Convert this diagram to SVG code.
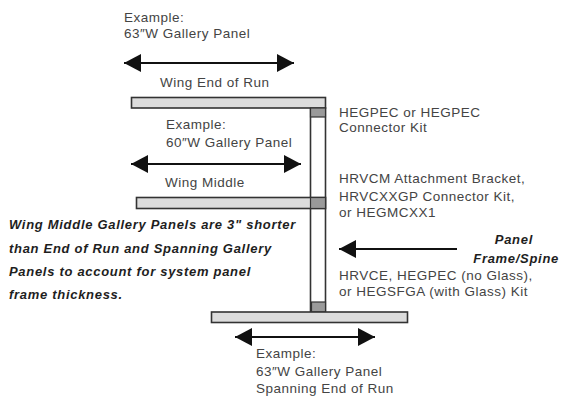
<svg xmlns="http://www.w3.org/2000/svg" width="561" height="398" viewBox="0 0 561 398">
<defs>
<style>
.t{font-family:"Liberation Sans",Arial,sans-serif;font-size:13.5px;fill:#444;letter-spacing:0.5px}
.b{font-family:"Liberation Sans",Arial,sans-serif;font-size:13px;font-weight:bold;font-style:italic;fill:#1e1e1e;letter-spacing:0.7px}
.panel{fill:#dcdcdc;stroke:#333;stroke-width:1.6}
.spine{fill:#fff;stroke:#333;stroke-width:1.6}
.conn{fill:#9a9a9a;stroke:#333;stroke-width:1.2}
.arr{stroke:#111;stroke-width:1.8;fill:none;marker-start:url(#ah);marker-end:url(#ah)}
.arr1{stroke:#111;stroke-width:1.8;fill:none;marker-end:url(#ah)}
</style>
<marker id="ah" markerUnits="userSpaceOnUse" markerWidth="18" markerHeight="18" viewBox="0 0 17 18" refX="17" refY="9" orient="auto-start-reverse">
<path d="M0,0 L17,9 L0,18 z" fill="#111"/>
</marker>
</defs>
<g id="spine">
<rect class="spine" x="310.5" y="108" width="15" height="204"/>
</g>
<g id="top-panel">
<rect class="panel" x="131.5" y="97.5" width="194" height="10.5"/>
<rect class="conn" x="310.5" y="108" width="15" height="9"/>
</g>
<g id="middle-panel">
<rect class="panel" x="136.5" y="197.5" width="189" height="11"/>
<rect class="conn" x="310.5" y="197.5" width="15" height="11"/>
</g>
<g id="bottom-panel">
<rect class="conn" x="311.5" y="302" width="14" height="10"/>
<rect class="panel" x="211.5" y="312" width="196" height="10.5"/>
</g>
<g id="connectors">
<line class="arr" x1="124" y1="63" x2="294" y2="63"/>
<line class="arr" x1="131" y1="164" x2="301" y2="164"/>
<line class="arr" x1="235" y1="337" x2="375" y2="337"/>
<line class="arr1" x1="457" y1="249" x2="339" y2="249"/>
</g>
<g id="labels">
<text class="t" x="124" y="22">Example:</text>
<text class="t" x="124" y="38">63″W Gallery Panel</text>
<text class="t" x="160" y="87">Wing End of Run</text>
<text class="t" x="166" y="129">Example:</text>
<text class="t" x="166" y="147">60″W Gallery Panel</text>
<text class="t" x="165" y="187">Wing Middle</text>
<text class="t" x="256" y="358">Example:</text>
<text class="t" x="256" y="376">63″W Gallery Panel</text>
<text class="t" x="256" y="393">Spanning End of Run</text>
<text class="t" x="339" y="117">HEGPEC or HEGPEC</text>
<text class="t" x="339" y="132">Connector Kit</text>
<text class="t" x="339" y="183">HRVCM Attachment Bracket,</text>
<text class="t" x="339" y="201">HRVCXXGP Connector Kit,</text>
<text class="t" x="339" y="217">or HEGMCXX1</text>
<text class="t" x="339" y="280">HRVCE, HEGPEC (no Glass),</text>
<text class="t" x="339" y="296">or HEGSFGA (with Glass) Kit</text>
<text class="b" x="533" y="244" text-anchor="end">Panel</text>
<text class="b" x="559" y="263" text-anchor="end">Frame/Spine</text>
<text class="b" x="9" y="229">Wing Middle Gallery Panels are 3" shorter</text>
<text class="b" x="9" y="253">than End of Run and Spanning Gallery</text>
<text class="b" x="9" y="276">Panels to account for system panel</text>
<text class="b" x="9" y="299">frame thickness.</text>
</g>
</svg>
